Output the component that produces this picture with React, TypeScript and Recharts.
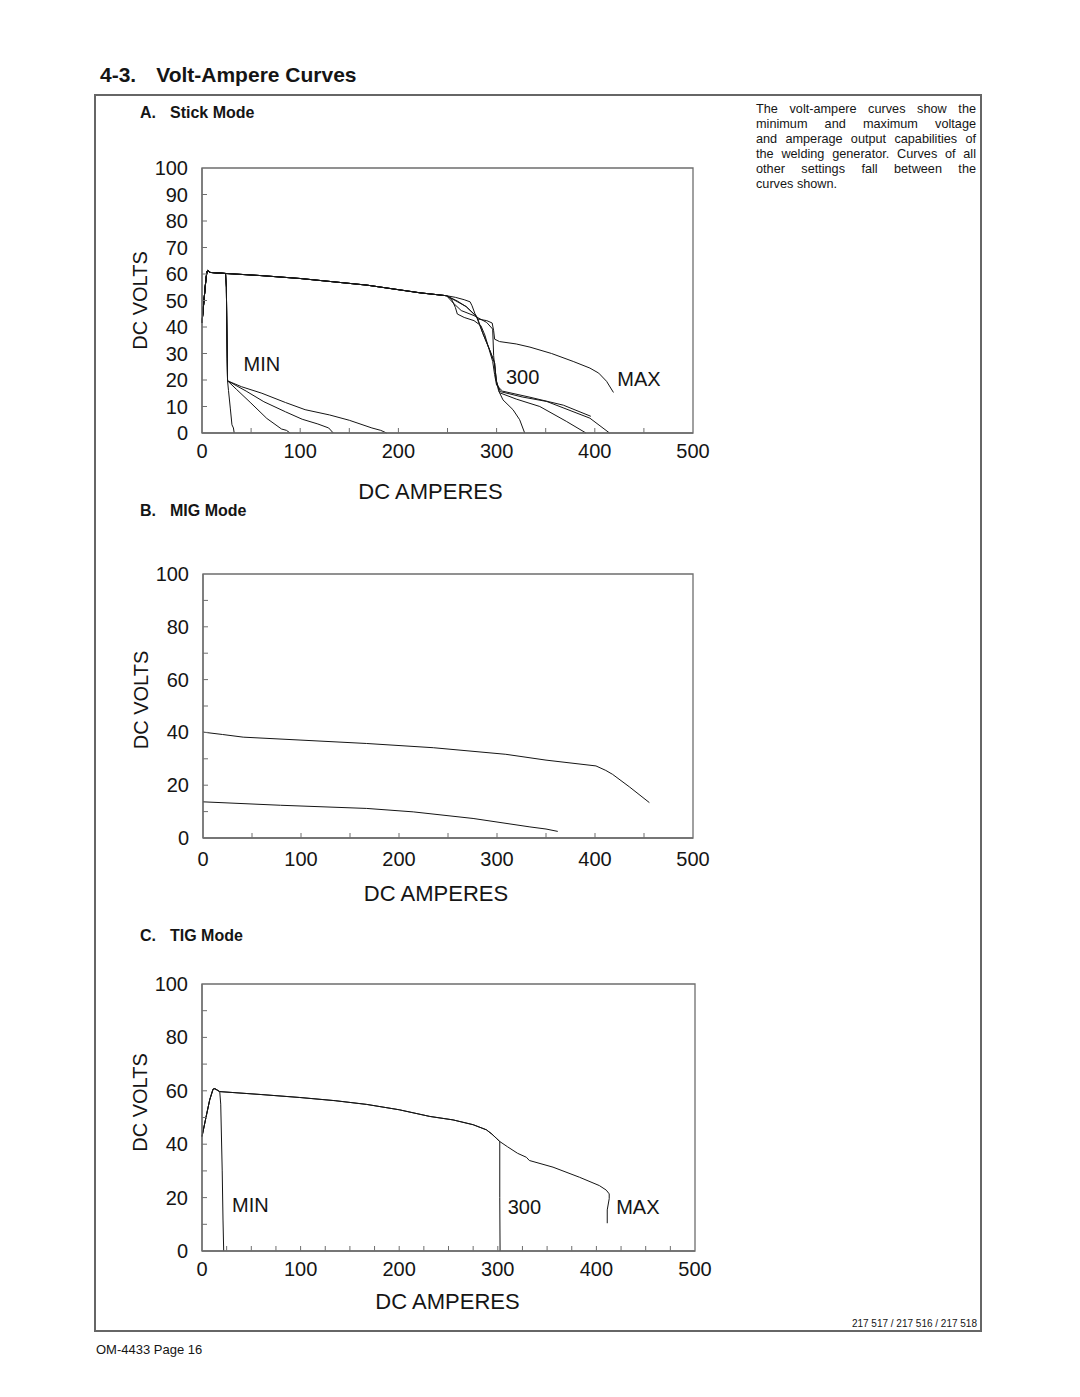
import { LineChart, Line, XAxis, YAxis, ReferenceArea, ReferenceDot } from 'recharts';

type Pt = [number, number];

const FONT = '"Liberation Sans", Arial, Helvetica, sans-serif';
const INK = '#151515';
const FRAME = '#6e6e6e';

// ---- A. Stick mode ----
const stickRise: Pt[] = [[0, 41.6], [2, 50], [4, 58], [5, 60.8], [6, 61.3], [8, 60.6], [24, 60.2]];
const stickPlateau: Pt[] = [[60, 59.4], [100, 58.3], [168, 55.8], [222, 52.9], [249, 51.8]];
const stickMinDrop: Pt[] = [[24.8, 55], [25.3, 40], [25.7, 28], [26, 19.7]];
const stickMinA: Pt[] = [[27, 16], [28.8, 9.4], [30.5, 3.1], [32, 1.9], [32.8, 0]];
const stickMinB: Pt[] = [[35, 16.5], [49, 11.6], [66, 5.5], [81, 1.5], [86, 1], [89.7, 0]];
const stickMinC: Pt[] = [[45, 15.8], [63, 11.8], [85, 8], [102, 5.2], [118, 3.4], [129, 1.9], [133.7, 0]];
const stickMinD: Pt[] = [[40, 17.5], [61, 15], [85, 11.5], [105, 8.8], [130, 6.8], [150, 4.8], [173, 1.9], [182, 1], [188, 0]];
const stickMax: Pt[] = [[258, 51.2], [267, 50.3], [273, 49.5], [275, 48], [278, 45], [281, 43], [290, 42.4], [295.5, 41.5], [297, 38.6], [298, 35.4], [303, 34.5], [320, 33.6], [334, 32.4], [356, 30], [378, 27], [395, 24.5], [404, 22.6], [412, 19.5], [419, 15.3]];
const stick300A: Pt[] = [[254, 50.6], [258, 47.4], [260, 44.9], [267, 43.6], [277, 42.4], [284, 40.5], [288, 37], [292, 32], [296, 27], [298, 22], [300, 18], [306, 15.8], [334, 13.5], [368, 10.5], [396, 6.3]];
const stick300B: Pt[] = [[260, 49.8], [269, 47.7], [279.5, 43.9], [286, 37.6], [293, 31.3], [298, 26.4], [299.6, 20], [303, 15.2], [320, 12.8], [344, 10], [371, 4.4], [391, 0]];
const stick300C: Pt[] = [[256, 49], [264, 46.2], [277, 44.3], [290, 41.7], [296, 39.2], [297, 29.2], [298, 25], [300, 19], [304, 15.6], [326, 13.6], [351, 11.9], [395, 5.6], [415, 0]];
const stick300D: Pt[] = [[269, 47.7], [280, 43.9], [286, 37.6], [293, 31.3], [298, 26.4], [299.6, 20], [302, 16], [306.5, 12.5], [316.7, 8.8], [323.5, 5], [328.6, 0]];

// ---- B. MIG mode ----
const migUpper: Pt[] = [[0, 40.1], [20, 39.2], [41, 38.2], [99, 37.1], [167, 35.8], [235, 34.2], [309, 31.7], [350, 29.5], [401, 27.3], [411, 25.6], [418, 24.1], [435, 19.4], [455.5, 13.4]];
const migLower: Pt[] = [[0, 13.7], [79, 12.4], [167, 11.2], [214.5, 9.9], [275.6, 7.4], [333.6, 4.2], [350, 3.4], [362, 2.5]];

// ---- C. TIG mode ----
const tigRise: Pt[] = [[0, 42.9], [4, 50], [7.8, 56.6], [11.2, 60.6], [13, 60.8], [18, 59.7]];
const tigMin: Pt[] = [[19, 55], [20.5, 30], [21.3, 11.6], [22, 0]];
const tigPlateau: Pt[] = [[60, 58.6], [99, 57.5], [135, 56.3], [167, 54.9], [200, 52.9], [231, 50.4], [254.6, 49.1], [275, 47.3], [288.4, 45.4], [294, 43.8], [298.6, 42.2], [302, 41]];
const tig300: Pt[] = [[302, 20], [302.3, 0]];
const tigMax: Pt[] = [[310, 39], [320, 36.6], [329, 35.1], [332, 33.9], [356, 31.4], [383, 27.6], [403, 24.5], [410, 22.8], [413, 21.4], [413, 19.6], [411, 15.4], [411, 10.4]];

const ampTicks50 = [0, 50, 100, 150, 200, 250, 300, 350, 400, 450, 500];
const ampTicks25 = [0, 25, 50, 75, 100, 125, 150, 175, 200, 225, 250, 275, 300, 325, 350, 375, 400, 425, 450, 475, 500];
const voltTicks = [0, 10, 20, 30, 40, 50, 60, 70, 80, 90, 100];

const toRows = (pts: Pt[]) => pts.map(([a, v]) => ({ a, v }));

const stickCurves: Pt[][] = [
  [...stickRise, ...stickMinDrop, ...stickMinA],
  [...stickRise, ...stickMinDrop, ...stickMinB],
  [...stickRise, ...stickMinDrop, ...stickMinC],
  [...stickRise, ...stickMinDrop, ...stickMinD],
  [...stickRise, ...stickPlateau, ...stickMax],
  [...stickRise, ...stickPlateau, ...stick300A],
  [...stickRise, ...stickPlateau, ...stick300B],
  [...stickRise, ...stickPlateau, ...stick300C],
  [...stickRise, ...stickPlateau, ...stick300D],
];
const migCurves: Pt[][] = [migUpper, migLower];
const tigCurves: Pt[][] = [
  [...tigRise, ...tigMin],
  [...tigRise, ...tigPlateau, ...tig300],
  [...tigRise, ...tigPlateau, ...tigMax],
];

type Note = { text: string; a: number; v: number };
const stickNotes: Note[] = [
  { text: 'MIN', a: 61, v: 26 },
  { text: '300', a: 326.5, v: 21.3 },
  { text: 'MAX', a: 445, v: 20.4 },
];
const tigNotes: Note[] = [
  { text: 'MIN', a: 49, v: 17.2 },
  { text: '300', a: 327, v: 16.6 },
  { text: 'MAX', a: 442, v: 16.6 },
];

const XTick = (props: any) => {
  const { x, y, payload, every, dy } = props;
  const v = payload.value;
  return (
    <g>
      {v > 0 && v < 500 && <line x1={x} x2={x} y1={y} y2={y - 5} stroke={FRAME} strokeWidth={1} />}
      {v % every === 0 && (
        <text x={x} y={y + dy} textAnchor="middle" fontSize={20} fill={INK} fontFamily={FONT}>
          {v}
        </text>
      )}
    </g>
  );
};

const YTick = (props: any) => {
  const { x, y, payload, every } = props;
  const v = payload.value;
  return (
    <g>
      {v > 0 && v < 100 && <line x1={x} x2={x + 5} y1={y} y2={y} stroke={FRAME} strokeWidth={1} />}
      {v % every === 0 && (
        <text x={x - 14} y={y + 7} textAnchor="end" fontSize={20} fill={INK} fontFamily={FONT}>
          {v}
        </text>
      )}
    </g>
  );
};

type PanelProps = {
  top: number;
  margin: { top: number; right: number; bottom: number; left: number };
  curves: Pt[][];
  notes: Note[];
  xTicks: number[];
  yEvery: number;
  xDy: number;
  titleDx: number;
  titleDy: number;
  voltsDy: number;
};

function Panel({ top, margin, curves, notes, xTicks, yEvery, xDy, titleDx, titleDy, voltsDy }: PanelProps) {
  return (
    <div style={{ position: 'absolute', left: 100, top }}>
      <LineChart width={620} height={360} margin={margin}>
        <ReferenceArea x1={0} x2={500} y1={0} y2={100} fill="none" stroke={FRAME} strokeWidth={1.3} />
        <XAxis
          type="number"
          dataKey="a"
          domain={[0, 500]}
          ticks={xTicks}
          interval={0}
          height={30}
          tickSize={0}
          tickMargin={0}
          tickLine={false}
          axisLine={{ stroke: FRAME, strokeWidth: 1.3 }}
          tick={(p: any) => <XTick {...p} every={100} dy={xDy} />}
          label={({ viewBox }: any) => (
            <text
              x={viewBox.x + viewBox.width / 2 + titleDx}
              y={viewBox.y + titleDy}
              textAnchor="middle"
              fontSize={22}
              fill={INK}
              fontFamily={FONT}
            >
              DC AMPERES
            </text>
          )}
        />
        <YAxis
          type="number"
          domain={[0, 100]}
          ticks={voltTicks}
          interval={0}
          width={40}
          tickSize={0}
          tickMargin={0}
          tickLine={false}
          axisLine={{ stroke: FRAME, strokeWidth: 1.3 }}
          tick={(p: any) => <YTick {...p} every={yEvery} />}
          label={({ viewBox }: any) => {
            const bx = viewBox.x - 15;
            const cy = viewBox.y + viewBox.height / 2 + voltsDy;
            return (
              <text
                x={bx}
                y={cy}
                transform={`rotate(-90 ${bx} ${cy})`}
                textAnchor="middle"
                fontSize={20}
                fill={INK}
                fontFamily={FONT}
              >
                DC VOLTS
              </text>
            );
          }}
        />
        {curves.map((pts, i) => (
          <Line
            key={i}
            data={toRows(pts)}
            dataKey="v"
            type="linear"
            dot={false}
            activeDot={false}
            stroke={INK}
            strokeWidth={1}
            isAnimationActive={false}
          />
        ))}
        {notes.map((n) => (
          <ReferenceDot
            key={n.text}
            x={n.a}
            y={n.v}
            r={1}
            fill="none"
            stroke="none"
            label={{ value: n.text, position: 'center', fontSize: 20, fill: INK, fontFamily: FONT }}
          />
        ))}
      </LineChart>
    </div>
  );
}

const text = (extra: React.CSSProperties): React.CSSProperties => ({
  position: 'absolute',
  fontFamily: FONT,
  color: INK,
  lineHeight: 1,
  whiteSpace: 'nowrap',
  ...extra,
});

const descLines = [
  'The volt-ampere curves show the',
  'minimum and maximum voltage',
  'and amperage output capabilities of',
  'the welding generator. Curves of all',
  'other settings fall between the',
  'curves shown.',
];

export default function App() {
  return (
    <div style={{ position: 'absolute', left: 0, top: 0, width: 1080, height: 1397, background: '#fff' }}>
      <div style={text({ left: 100, top: 64, fontSize: 21, fontWeight: 700 })}>
        4-3.<span style={{ marginLeft: 20 }}>Volt-Ampere Curves</span>
      </div>
      <div
        style={{
          position: 'absolute',
          left: 94,
          top: 94,
          width: 888,
          height: 1238,
          border: '2px solid #666',
          boxSizing: 'border-box',
        }}
      />
      <div style={text({ left: 140, top: 105, fontSize: 16, fontWeight: 700 })}>
        A.<span style={{ marginLeft: 14 }}>Stick Mode</span>
      </div>
      <div style={text({ left: 140, top: 503, fontSize: 16, fontWeight: 700 })}>
        B.<span style={{ marginLeft: 14 }}>MIG Mode</span>
      </div>
      <div style={text({ left: 140, top: 928, fontSize: 16, fontWeight: 700 })}>
        C.<span style={{ marginLeft: 14 }}>TIG Mode</span>
      </div>
      <div
        style={{
          position: 'absolute',
          left: 756,
          top: 102,
          width: 220,
          fontFamily: FONT,
          fontSize: 12.7,
          lineHeight: '15px',
          color: INK,
          whiteSpace: 'nowrap',
        }}
      >
        {descLines.map((l, i) => (
          <div key={i} style={{ textAlign: 'justify', textAlignLast: i < descLines.length - 1 ? 'justify' : 'left' }}>
            {l}
          </div>
        ))}
      </div>

      <Panel
        top={150}
        margin={{ top: 18, right: 27, bottom: 47, left: 62 }}
        curves={stickCurves}
        notes={stickNotes}
        xTicks={ampTicks50}
        yEvery={10}
        xDy={25}
        titleDx={-17}
        titleDy={66}
        voltsDy={0}
      />
      <Panel
        top={556}
        margin={{ top: 18, right: 27, bottom: 48, left: 63 }}
        curves={migCurves}
        notes={[]}
        xTicks={ampTicks50}
        yEvery={20}
        xDy={28}
        titleDx={-12}
        titleDy={63}
        voltsDy={-6}
      />
      <Panel
        top={966}
        margin={{ top: 18, right: 25, bottom: 45, left: 62 }}
        curves={tigCurves}
        notes={tigNotes}
        xTicks={ampTicks25}
        yEvery={20}
        xDy={25}
        titleDx={-1}
        titleDy={58}
        voltsDy={-15}
      />

      <div style={text({ right: 1080 - 977, top: 1319, fontSize: 10 })}>217 517 / 217 516 / 217 518</div>
      <div style={text({ left: 96, top: 1343, fontSize: 13 })}>OM-4433 Page 16</div>
    </div>
  );
}
